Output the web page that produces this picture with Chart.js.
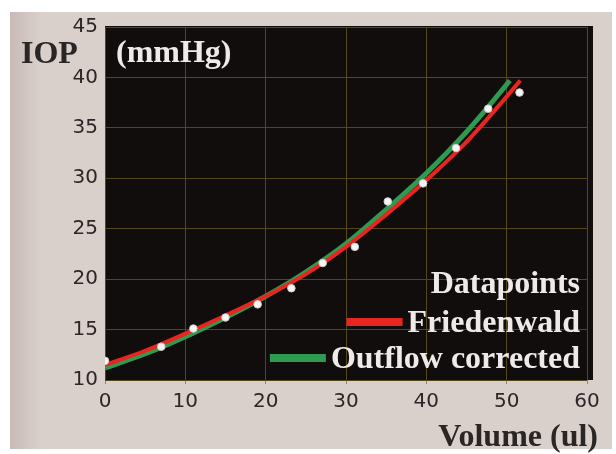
<!DOCTYPE html>
<html>
<head>
<meta charset="utf-8">
<script src="https://cdn.jsdelivr.net/npm/chart.js@4.4.1/dist/chart.umd.min.js"></script>
<style>
  html, body { margin: 0; padding: 0; background: #fff; }
  #wrap { width: 616px; height: 454px; }
</style>
</head>
<body>
<div id="wrap"><canvas id="iopChart" width="616" height="454"></canvas></div>
<script>
// tick labels
const xTicks = [0, 10, 20, 30, 40, 50, 60];
const yTicks = [10, 15, 20, 25, 30, 35, 40, 45];

// measured points (white dots)
const dataVolume = [0, 7, 11, 15, 19, 23.2, 27.1, 31.1, 35.2, 39.6, 43.7, 47.7, 51.6];
const dataIop = [11.9, 13.3, 15.1, 16.2, 17.5, 19.1, 21.6, 23.2, 27.7, 29.5, 33.0, 36.9, 38.5];

// Friedenwald fit (red)
const friedVolume = [0, 5, 10, 15, 20, 25, 30, 35, 40, 45, 50, 51.7];
const friedIop = [11.5, 12.9, 14.6, 16.4, 18.3, 20.5, 23.2, 26.4, 29.8, 33.6, 38.1, 39.7];

// outflow corrected fit (green)
const outflowVolume = [0, 5, 10, 15, 20, 25, 30, 35, 40, 45, 50, 50.4];
const outflowIop = [11.2, 12.6, 14.3, 16.2, 18.3, 20.7, 23.5, 26.9, 30.5, 34.6, 39.3, 39.7];

const toPts = (xs, ys) => xs.map((x, i) => ({ x: x, y: ys[i] }));

const serif = '"Liberation Serif", "Times New Roman", serif';
const gridColor = '#54481a';

const decor = {
  id: 'decor',
  beforeDraw(chart) {
    const ctx = chart.ctx;
    const a = chart.chartArea;
    ctx.save();
    ctx.fillStyle = '#ffffff';
    ctx.fillRect(0, 0, chart.width, chart.height);
    // paper panel
    const g = ctx.createLinearGradient(10, 0, 40, 0);
    g.addColorStop(0, '#c8bab6');
    g.addColorStop(1, '#d9cfcb');
    ctx.fillStyle = g;
    ctx.fillRect(10, 12, 602, 437);
    // plot background
    ctx.fillStyle = '#110d0d';
    ctx.fillRect(a.left, a.top - 1, a.right - a.left + 6, a.bottom - a.top + 1);
    ctx.restore();
  },
  afterDraw(chart) {
    const ctx = chart.ctx;
    ctx.save();
    ctx.font = 'bold 32px ' + serif;
    ctx.textBaseline = 'alphabetic';

    ctx.fillStyle = '#2b2626';
    ctx.textAlign = 'left';
    ctx.fillText('IOP', 21, 63);
    ctx.textAlign = 'right';
    ctx.fillText('Volume (ul)', 598, 446);

    ctx.fillStyle = '#efeaea';
    ctx.textAlign = 'left';
    ctx.fillText('(mmHg)', 116, 62);

    // legend, right aligned inside the plot
    const rows = [293, 332, 368];
    const right = 580;
    chart.data.datasets.forEach((ds, i) => {
      const y = rows[i];
      ctx.fillStyle = '#efeaea';
      ctx.textAlign = 'right';
      ctx.fillText(ds.label, right, y);
      if (ds.showLine) {
        const w = ctx.measureText(ds.label).width;
        const x1 = right - w - 5;
        ctx.strokeStyle = ds.borderColor;
        ctx.lineWidth = 8;
        ctx.beginPath();
        ctx.moveTo(x1 - 56, y - 10);
        ctx.lineTo(x1, y - 10);
        ctx.stroke();
      }
    });
    ctx.restore();
  }
};

new Chart(document.getElementById('iopChart'), {
  type: 'scatter',
  data: {
    datasets: [
      {
        label: 'Datapoints',
        data: toPts(dataVolume, dataIop),
        showLine: false,
        pointRadius: 3.8,
        pointBackgroundColor: '#f6f4f4',
        pointBorderColor: '#cfcaca',
        pointBorderWidth: 1,
        order: 0
      },
      {
        label: 'Friedenwald',
        data: toPts(friedVolume, friedIop),
        showLine: true,
        borderColor: '#e8261f',
        borderWidth: 4,
        pointRadius: 0,
        cubicInterpolationMode: 'monotone',
        order: 1
      },
      {
        label: 'Outflow corrected',
        data: toPts(outflowVolume, outflowIop),
        showLine: true,
        borderColor: '#2f9a52',
        borderWidth: 5,
        pointRadius: 0,
        cubicInterpolationMode: 'monotone',
        order: 2
      }
    ]
  },
  options: {
    responsive: false,
    animation: false,
    layout: { padding: { top: 27, right: 29, left: 0, bottom: 0 } },
    plugins: {
      legend: { display: false },
      tooltip: { enabled: false }
    },
    scales: {
      x: {
        type: 'linear',
        min: 0,
        max: 60,
        afterBuildTicks: (axis) => { axis.ticks = xTicks.map(v => ({ value: v })); },
        afterFit: (axis) => { axis.height = 74; },
        border: { display: false },
        grid: { color: gridColor, lineWidth: 1, drawTicks: true, tickLength: 4, tickColor: '#8f8482' },
        ticks: { color: '#2c2626', padding: 6, font: { family: 'DejaVu Sans', size: 20 } }
      },
      y: {
        type: 'linear',
        min: 10,
        max: 45,
        afterBuildTicks: (axis) => { axis.ticks = yTicks.map(v => ({ value: v })); },
        afterFit: (axis) => { axis.width = 105; },
        border: { display: false },
        grid: { color: gridColor, lineWidth: 1, drawTicks: false },
        ticks: { color: '#2c2626', padding: 7, font: { family: 'DejaVu Sans', size: 20 } }
      }
    }
  },
  plugins: [decor]
});
</script>
</body>
</html>
